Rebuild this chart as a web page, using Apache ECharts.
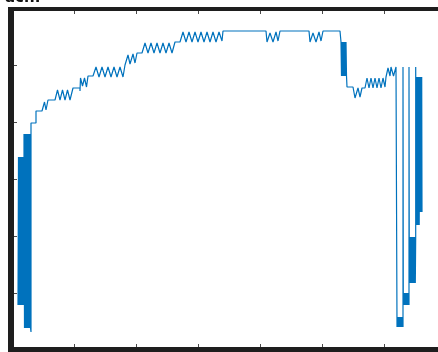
<!DOCTYPE html>
<html>
<head>
<meta charset="utf-8">
<script src="https://cdn.jsdelivr.net/npm/echarts@6/dist/echarts.min.js"></script>
<style>
html,body{margin:0;padding:0;background:#fff;}
#chart{width:438px;height:352px;}
</style>
</head>
<body>
<div id="chart"></div>
<script>
const xTicks = { min: 0, max: 426, interval: 62 };
const yTicks = { min: 0, max: 342, interval: 57 };

// Signal values, segment by segment: [x, y]
const leftBurstLow = [[6,45],[6.5,193],[7,45],[7.5,193],[8,45],[8.5,193],[9,45],[9.5,193],[10,45],[10.5,193],[11,45],[11.5,193],[12,45]];
const leftBurstHigh = [[12,216],[12.5,22],[13,216],[13.5,22],[14,216],[14.5,22],[15,216],[15.5,22],[16,216],[16.5,22],[17,216],[17.5,22],[18,216],[18.5,22],[19,18],[19,227]];
const riseSteps = [[24,227],[24,239],[30,239],[32.5,248],[34,240],[36,250],[43,250],[45.5,260],[48,250],[50.5,260],[53,250],[55.5,260],[58,250],[61,262],[68,262],[68,259],[68.5,272],[70.5,264],[72.5,272],[74.5,263],[76,274],[81,274],[84,283],[87,273],[90,283],[93,273],[96,283],[99,273],[102,283],[105,273],[108,283],[111,273],[113,285],[116,295],[118,286],[121,296],[123,287],[125,297],[130,297],[133,307],[136,297],[139,307],[142,297],[145,307],[148,297],[151,307],[154,297],[157,307],[160,297],[161,295],[163,308],[168,308],[171,318],[174,308],[177,318],[180,308],[183,318],[186,308],[189,318],[192,308],[195,318],[198,308],[201,318],[204,308],[207,318],[210,309],[211,319]];
const plateau = [[254,319],[255,308],[258,317],[261,308],[264,318],[266,309],[268,319],[297,319],[298,308],[301,317],[304,308],[307,318],[309,309],[311,319],[328,319],[329,308]];
const dropBurst = [[329.5,274],[330,308],[330.5,274],[331,308],[331.5,274],[332,308],[332.5,274],[333,308],[333.5,274],[334,308],[334.5,274]];
const recovery = [[335,263],[341,263],[343,252],[346,262],[348,253],[350,262],[353,262],[355,272],[357,262],[359,272],[361,262],[363,272],[365,262],[367,272],[369,262],[371,272],[373,263],[374,273],[376,282],[378,274],[379,283],[381.5,274],[384,283],[385,283]];
const rightBurstA = [[385,23],[385.5,33],[386,23],[386.5,33],[387,23],[387.5,33],[388,23],[388.5,33],[389,23],[389.5,33],[390,23],[390.5,33],[391,23],[391,283]];
const rightBurstB = [[391.3,45],[391.5,57],[392,45],[392.5,57],[393,45],[393.5,57],[394,45],[394.5,57],[395,45],[395.5,57],[396,45],[396.5,57],[397,45],[397,283]];
const rightBurstC = [[397.3,67],[397.8,113],[398.3,67],[398.8,113],[399.3,67],[399.8,113],[400.3,67],[400.8,113],[401.3,67],[401.8,113],[402.3,67],[402.8,113],[403.3,67],[403.7,113],[403.7,283]];
const rightBurstD = [[404.2,125],[404.7,273],[405.2,125],[405.7,273],[406.2,125],[406.7,273],[407.2,125],[407.7,273],[408.2,138],[408.7,273],[409.2,138],[409.7,273],[410,138]];

const signal = [].concat(leftBurstLow, leftBurstHigh, riseSteps, plateau, dropBurst, recovery,
  rightBurstA, rightBurstB, rightBurstC, rightBurstD);

const chart = echarts.init(document.getElementById('chart'), null, { renderer: 'canvas' });
const tickStyle = { color: '#4a4a4a', width: 1 };
function xAxisDef(pos, len) {
  return {
    type: 'value', position: pos, min: xTicks.min, max: xTicks.max, interval: xTicks.interval,
    axisLine: { show: false },
    axisTick: { show: true, inside: true, length: len, lineStyle: tickStyle },
    axisLabel: { show: false }, splitLine: { show: false }
  };
}
chart.setOption({
  animation: false,
  backgroundColor: '#ffffff',
  title: {
    text: 'ach.', left: 0, top: -14,
    textStyle: { fontSize: 15, fontWeight: 'bold', color: '#111', fontFamily: 'DejaVu Sans' }
  },
  grid: { left: 12, right: 0, top: 8, bottom: 2 },
  xAxis: [xAxisDef('bottom', 6), xAxisDef('top', 6)],
  yAxis: {
    type: 'value', min: yTicks.min, max: yTicks.max, interval: yTicks.interval,
    axisLine: { show: false },
    axisTick: { show: true, inside: true, length: 5, lineStyle: tickStyle },
    axisLabel: { show: false }, splitLine: { show: false }
  },
  series: [{
    type: 'line', xAxisIndex: 0, data: signal, symbol: 'none', showSymbol: false,
    lineStyle: { color: '#0072BD', width: 1.2 }, z: 2
  }],
  graphic: [
    { type: 'rect', z: 100, shape: { x: 8, y: 7, width: 430, height: 4 }, style: { fill: '#1e1e1e' } },
    { type: 'rect', z: 100, shape: { x: 8, y: 7, width: 6, height: 345 }, style: { fill: '#1e1e1e' } },
    { type: 'rect', z: 100, shape: { x: 8, y: 347, width: 430, height: 5 }, style: { fill: '#1e1e1e' } }
  ]
});
</script>
</body>
</html>
